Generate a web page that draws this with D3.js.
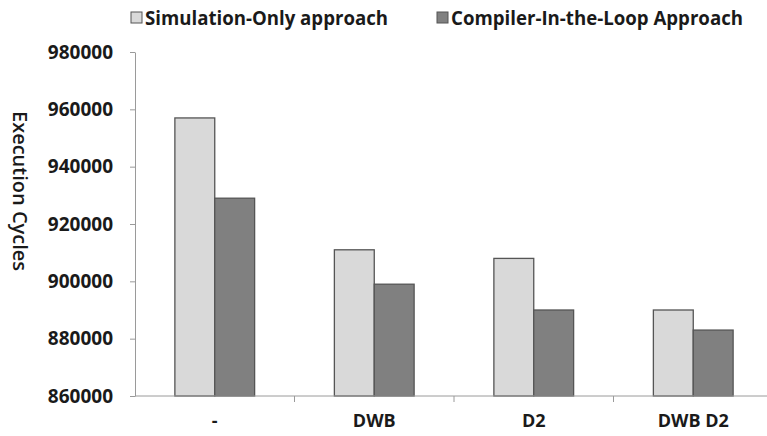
<!DOCTYPE html>
<html>
<head>
<meta charset="utf-8"/>
<script src="https://cdn.jsdelivr.net/npm/d3@7"></script>
<title>Execution Cycles</title>
<style>
body { margin: 0; background: #fff; }
svg { display: block; }
text { font-family: "Open Sans", sans-serif; fill: #1a1a1a; }
</style>
</head>
<body>
<script>
// data
var categories = ["-", "DWB", "D2", "DWB D2"];
var seriesNames = ["Simulation-Only approach", "Compiler-In-the-Loop Approach"];
var simOnly = [957000, 911000, 908000, 890000];
var compilerLoop = [929000, 899000, 890000, 883000];
var yTicks = [860000, 880000, 900000, 920000, 940000, 960000, 980000];
var colors = ["#d9d9d9", "#808080"];

var width = 767, height = 436;
var svg = d3.select("body").append("svg")
	.attr("width", width)
	.attr("height", height);

var x0 = d3.scaleBand().domain(categories).range([135, 773]).paddingInner(0.5).paddingOuter(0.25);
var x1 = d3.scaleBand().domain([0, 1]).range([0, x0.bandwidth()]);
var y = d3.scaleLinear().domain([860000, 980000]).range([396, 52]);

var rows = categories.map(function(c, i) { return {cat: c, vals: [simOnly[i], compilerLoop[i]]}; });

//bars
var groups = svg.selectAll("g.grp").data(rows).enter().append("g")
	.attr("class", "grp")
	.attr("transform", function(d) { return "translate(" + x0(d.cat) + ",0)"; });
groups.selectAll("rect").data(function(d) { return d.vals; }).enter().append("rect")
	.attr("x", function(d, i) { return x1(i); })
	.attr("y", function(d) { return y(d); })
	.attr("width", x1.bandwidth())
	.attr("height", function(d) { return y(860000) - y(d); })
	.style("fill", function(d, i) { return colors[i]; })
	.style("stroke", "#555")
	.style("stroke-width", 1.3);

//y axis
var yAxis = svg.append("g")
	.attr("transform", "translate(135,0)")
	.call(d3.axisLeft(y).tickValues(yTicks).tickSize(5).tickSizeOuter(0).tickPadding(17).tickFormat(d3.format("d")));
yAxis.select(".domain").attr("stroke", "#9a9a9a");
yAxis.selectAll(".tick line").attr("stroke", "#9a9a9a");
yAxis.selectAll(".tick text")
	.style("font-size", "19px").style("font-weight", "bold").style("font-family", "Open Sans").attr("fill", "#1a1a1a");

//x axis
var step = x0.step();
var xAxis = svg.append("g")
	.attr("transform", "translate(0,396)")
	.call(d3.axisBottom(x0).tickSize(0).tickPadding(18));
xAxis.select(".domain").attr("stroke", "#9a9a9a").attr("d", "M135,0H" + width);
xAxis.selectAll(".tick text")
	.style("font-size", "18px").style("font-weight", "bold").style("font-family", "Open Sans").attr("fill", "#1a1a1a");
xAxis.selectAll("line.sep").data(categories.slice(1)).enter().append("line")
	.attr("class", "sep")
	.attr("x1", function(d) { return x0(d) - step * 0.25; })
	.attr("x2", function(d) { return x0(d) - step * 0.25; })
	.attr("y1", 0).attr("y2", 6)
	.attr("stroke", "#9a9a9a");

//y title
svg.append("text")
	.attr("transform", "translate(13,191) rotate(90)")
	.attr("text-anchor", "middle")
	.style("font-size", "20px")
	.style("font-weight", "600")
	.text("Execution Cycles");

//legend
var legendX = [131, 437];
var legendLen = [243, 292];
var leg = svg.selectAll("g.leg").data(seriesNames).enter().append("g")
	.attr("class", "leg")
	.attr("transform", function(d, i) { return "translate(" + legendX[i] + ",0)"; });
leg.append("rect")
	.attr("x", 0).attr("y", 12).attr("width", 11).attr("height", 11)
	.style("fill", function(d, i) { return colors[i]; })
	.style("stroke", "#555");
leg.append("text")
	.attr("x", 14).attr("y", 25)
	.attr("textLength", function(d, i) { return legendLen[i]; })
	.attr("lengthAdjust", "spacingAndGlyphs")
	.style("font-size", "19px").style("font-weight", "bold")
	.text(function(d) { return d; });
</script>
</body>
</html>
